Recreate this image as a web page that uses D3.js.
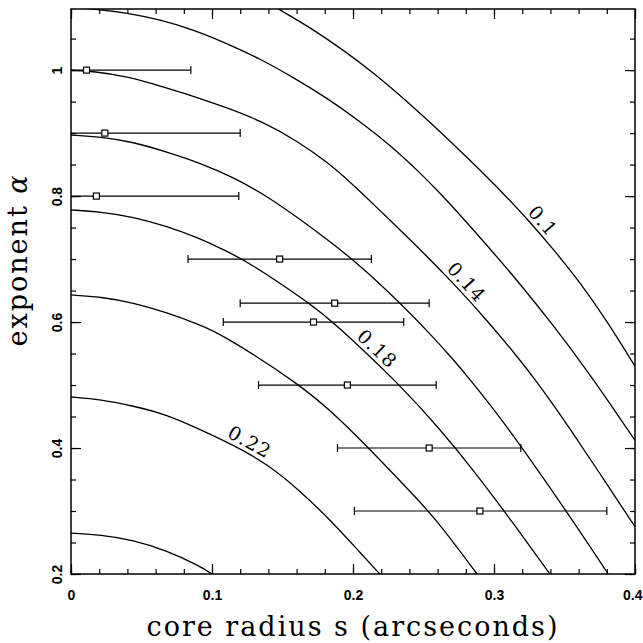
<!DOCTYPE html>
<html>
<head>
<meta charset="utf-8">
<script src="https://cdn.jsdelivr.net/npm/d3@7"></script>
<style>
  body { margin: 0; background: #fff; }
  svg { display: block; }
</style>
</head>
<body>
<svg id="chart" width="643" height="643"></svg>
<script>
// Contour levels and traced (core radius s, exponent alpha) points along each level curve
const levels = [0.10, 0.12, 0.14, 0.16, 0.18, 0.20, 0.22, 0.24];

const curve010 = [[0.147,1.097],[0.170,1.067],[0.193,1.032],[0.215,0.995],[0.238,0.951],[0.262,0.902],[0.281,0.861],[0.296,0.828],[0.310,0.796],[0.323,0.765],[0.342,0.716],[0.361,0.663],[0.380,0.602],[0.400,0.530]];
const curve012 = [[0.000,1.100],[0.016,1.097],[0.040,1.091],[0.063,1.080],[0.087,1.064],[0.110,1.043],[0.135,1.017],[0.158,0.988],[0.182,0.955],[0.204,0.920],[0.228,0.878],[0.248,0.836],[0.262,0.804],[0.276,0.770],[0.295,0.722],[0.318,0.662],[0.342,0.595],[0.366,0.523],[0.384,0.465],[0.400,0.412]];
const curve014 = [[0.000,1.000],[0.016,0.998],[0.040,0.990],[0.063,0.975],[0.088,0.958],[0.112,0.939],[0.136,0.918],[0.160,0.888],[0.183,0.852],[0.200,0.818],[0.215,0.786],[0.233,0.747],[0.250,0.710],[0.271,0.662],[0.295,0.603],[0.318,0.541],[0.328,0.512],[0.342,0.469],[0.351,0.440],[0.375,0.360],[0.400,0.275]];
const curve016 = [[0.000,0.897],[0.021,0.894],[0.044,0.886],[0.068,0.870],[0.091,0.853],[0.115,0.830],[0.139,0.800],[0.162,0.764],[0.201,0.699],[0.234,0.629],[0.254,0.583],[0.271,0.541],[0.284,0.506],[0.295,0.475],[0.306,0.443],[0.321,0.397],[0.351,0.301],[0.381,0.200]];
const curve018 = [[0.000,0.778],[0.021,0.775],[0.044,0.767],[0.068,0.752],[0.091,0.733],[0.106,0.717],[0.125,0.697],[0.171,0.627],[0.186,0.600],[0.234,0.499],[0.262,0.429],[0.285,0.366],[0.309,0.295],[0.340,0.199]];
const curve020 = [[0.000,0.643],[0.021,0.640],[0.044,0.631],[0.068,0.615],[0.091,0.596],[0.106,0.582],[0.164,0.499],[0.191,0.445],[0.212,0.398],[0.247,0.316],[0.262,0.278],[0.288,0.200]];
const curve022 = [[0.000,0.481],[0.021,0.477],[0.044,0.467],[0.068,0.453],[0.091,0.430],[0.115,0.405],[0.139,0.375],[0.162,0.333],[0.186,0.281],[0.205,0.234],[0.219,0.200]];
const curve024 = [[0.000,0.265],[0.021,0.262],[0.044,0.254],[0.068,0.237],[0.091,0.213],[0.100,0.200]];

const curves = [curve010, curve012, curve014, curve016, curve018, curve020, curve022, curve024];

// Labelled contours: level text and the core radius where each label sits
const labelText = ["0.1", "0.14", "0.18", "0.22"];
const labelCurve = [0, 2, 4, 6];
const labelS = [0.329, 0.275, 0.212, 0.123];

// Fitted points with horizontal error bars in s
const obsAlpha = [1.0, 0.9, 0.8, 0.7, 0.63, 0.6, 0.5, 0.4, 0.3];
const obsS     = [0.011, 0.024, 0.018, 0.148, 0.187, 0.172, 0.196, 0.254, 0.290];
const obsLow   = [-0.063, -0.072, -0.083, 0.083, 0.120, 0.108, 0.133, 0.189, 0.201];
const obsHigh  = [0.085, 0.120, 0.119, 0.213, 0.254, 0.236, 0.259, 0.319, 0.380];

// Axis ticks
const xMajor = [0, 0.1, 0.2, 0.3, 0.4];
const xMinor = d3.range(0, 0.4001, 0.02);
const yMajor = [0.2, 0.4, 0.6, 0.8, 1.0];
const yMinor = d3.range(0.2, 1.0901, 0.05);

const xTitle = "core radius s (arcseconds)";
const yTitle = "exponent ";
const yTitleSym = "α";

const svg = d3.select("#chart");
const L = 71, R = 635, T = 9, B = 574;

const x = d3.scaleLinear().domain([0, 0.4]).range([L, R]);
const y = d3.scaleLinear().domain([0.2, 1.097]).range([B, T]);

const fmt = d => String(+d.toFixed(2));

svg.append("defs").append("clipPath").attr("id", "plotClip")
  .append("rect").attr("x", L).attr("y", T).attr("width", R - L).attr("height", B - T);

const tickFont = "'Liberation Sans', Arial, sans-serif";
const serif = "'DejaVu Serif', serif";

// Axes: inward ticks on all four sides
function styleAxis(g) {
  g.select(".domain").remove();
  g.selectAll("line").attr("stroke", "#000").attr("stroke-width", 1.2);
}

svg.append("g").attr("transform", `translate(0,${B})`)
  .call(d3.axisBottom(x).tickValues(xMinor).tickSize(-5).tickFormat(""))
  .call(styleAxis);
svg.append("g").attr("transform", `translate(0,${B})`)
  .call(d3.axisBottom(x).tickValues(xMajor).tickSize(-10).tickPadding(16).tickFormat(fmt))
  .call(styleAxis)
  .call(g => g.selectAll("text").attr("font-family", tickFont).attr("font-weight", "bold")
    .attr("font-size", 14).attr("fill", "#000"))
  .call(g => g.selectAll("text").filter(d => d === 0.4)
    .attr("text-anchor", "end").attr("x", 7));

svg.append("g").attr("transform", `translate(0,${T})`)
  .call(d3.axisTop(x).tickValues(xMinor).tickSize(-5).tickFormat(""))
  .call(styleAxis);
svg.append("g").attr("transform", `translate(0,${T})`)
  .call(d3.axisTop(x).tickValues(xMajor).tickSize(-10).tickFormat(""))
  .call(styleAxis);

svg.append("g").attr("transform", `translate(${L},0)`)
  .call(d3.axisLeft(y).tickValues(yMinor).tickSize(-5).tickFormat(""))
  .call(styleAxis);
svg.append("g").attr("transform", `translate(${L},0)`)
  .call(d3.axisLeft(y).tickValues(yMajor).tickSize(-10).tickFormat(fmt))
  .call(styleAxis)
  .call(g => g.selectAll("text")
    .attr("font-family", tickFont).attr("font-weight", "bold").attr("font-size", 14).attr("fill", "#000")
    .attr("text-anchor", "middle").attr("dy", null)
    .attr("x", 0).attr("y", -9)
    .attr("transform", "rotate(-90)"));

svg.append("g").attr("transform", `translate(${R},0)`)
  .call(d3.axisRight(y).tickValues(yMinor).tickSize(-5).tickFormat(""))
  .call(styleAxis);
svg.append("g").attr("transform", `translate(${R},0)`)
  .call(d3.axisRight(y).tickValues(yMajor).tickSize(-10).tickFormat(""))
  .call(styleAxis);

// Frame
svg.append("rect").attr("x", L).attr("y", T).attr("width", R - L).attr("height", B - T)
  .attr("fill", "none").attr("stroke", "#000").attr("stroke-width", 1.5);

// Contour curves
const line = d3.line().x(d => x(d[0])).y(d => y(d[1])).curve(d3.curveBasis);
const plot = svg.append("g").attr("clip-path", "url(#plotClip)");
plot.selectAll("path.contour").data(curves).join("path")
  .attr("class", "contour")
  .attr("d", line)
  .attr("fill", "none").attr("stroke", "#000").attr("stroke-width", 1.3);

// Contour labels, rotated along the local tangent and set just above the curve
labelText.forEach((txt, i) => {
  const pts = curves[labelCurve[i]];
  const s = labelS[i];
  let k = d3.bisector(d => d[0]).left(pts, s);
  k = Math.max(1, Math.min(pts.length - 1, k));
  const p0 = pts[k - 1], p1 = pts[k];
  const t = (s - p0[0]) / (p1[0] - p0[0]);
  const a = p0[1] + t * (p1[1] - p0[1]);
  const px = x(s), py = y(a);
  const dx = x(p1[0]) - x(p0[0]), dy = y(p1[1]) - y(p0[1]);
  const ang = Math.atan2(dy, dx) * 180 / Math.PI;
  svg.append("text")
    .attr("transform", `translate(${px},${py}) rotate(${ang})`)
    .attr("x", 0).attr("y", -4)
    .attr("text-anchor", "middle")
    .attr("font-family", serif).attr("font-size", 19).attr("letter-spacing", 1)
    .attr("fill", "#000")
    .text(txt);
});

// Error bars and points
const obs = obsAlpha.map((a, i) => ({a, s: obsS[i], lo: obsLow[i], hi: obsHigh[i]}));
const eb = plot.append("g");
eb.selectAll("line.bar").data(obs).join("line")
  .attr("x1", d => x(d.lo)).attr("x2", d => x(d.hi))
  .attr("y1", d => y(d.a)).attr("y2", d => y(d.a))
  .attr("stroke", "#000").attr("stroke-width", 1.2);
eb.selectAll("line.capLo").data(obs).join("line")
  .attr("x1", d => x(d.lo)).attr("x2", d => x(d.lo))
  .attr("y1", d => y(d.a) - 4).attr("y2", d => y(d.a) + 4)
  .attr("stroke", "#000").attr("stroke-width", 1.2);
eb.selectAll("line.capHi").data(obs).join("line")
  .attr("x1", d => x(d.hi)).attr("x2", d => x(d.hi))
  .attr("y1", d => y(d.a) - 4).attr("y2", d => y(d.a) + 4)
  .attr("stroke", "#000").attr("stroke-width", 1.2);
eb.selectAll("rect.pt").data(obs).join("rect")
  .attr("x", d => x(d.s) - 3).attr("y", d => y(d.a) - 3)
  .attr("width", 6).attr("height", 6)
  .attr("fill", "#fff").attr("stroke", "#000").attr("stroke-width", 1.2);

// Axis titles
svg.append("text")
  .attr("x", (L + R) / 2).attr("y", 636)
  .attr("text-anchor", "middle")
  .attr("font-family", serif).attr("font-size", 27).attr("letter-spacing", 2)
  .attr("fill", "#000")
  .text(xTitle);

const yt = svg.append("text")
  .attr("transform", "translate(27,260) rotate(-90)")
  .attr("text-anchor", "middle")
  .attr("font-family", serif).attr("font-size", 27).attr("letter-spacing", 2)
  .attr("fill", "#000");
yt.append("tspan").text(yTitle);
yt.append("tspan").attr("font-style", "italic").text(yTitleSym);
</script>
</body>
</html>
